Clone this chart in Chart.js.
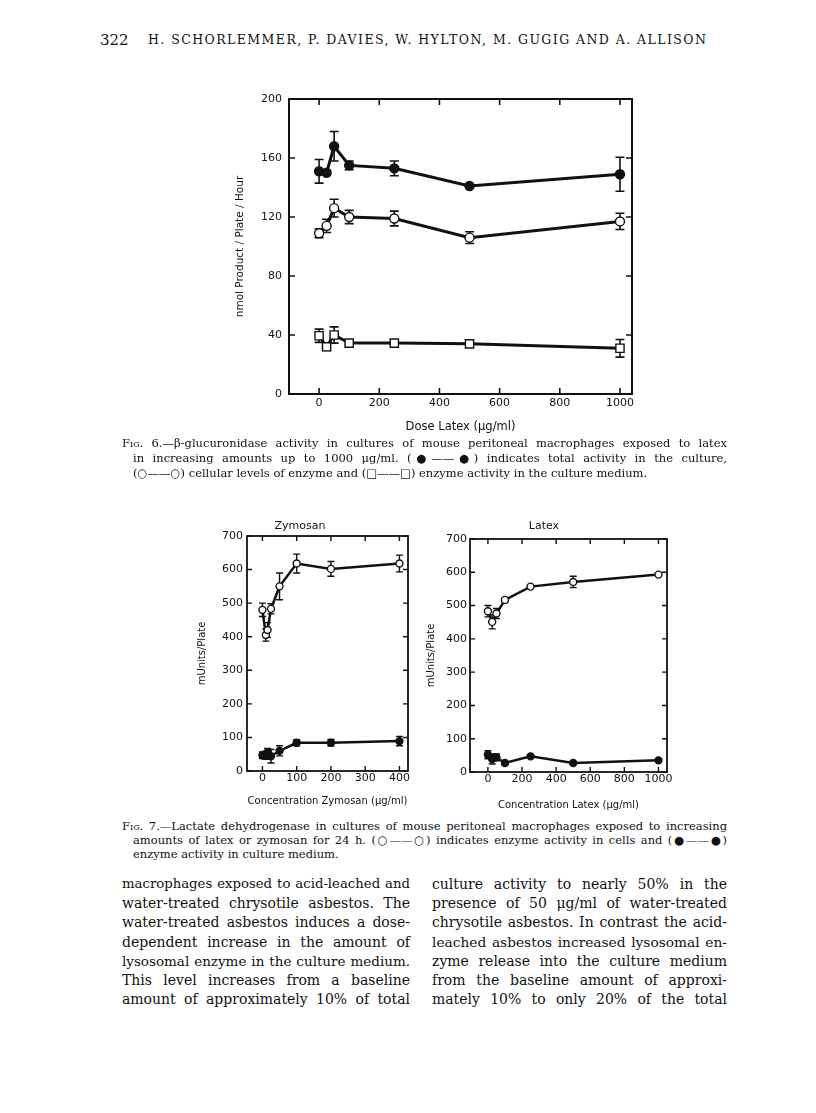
<!DOCTYPE html>
<html><head><meta charset="utf-8">
<script src="https://cdn.jsdelivr.net/npm/chart.js@4.4.1/dist/chart.umd.min.js"></script>
<style>
html,body{margin:0;padding:0;background:#fff;}
body{width:816px;height:1113px;position:relative;overflow:hidden;}
canvas{position:absolute;}
.t{position:absolute;color:#111;font-family:"DejaVu Serif",serif;margin:0;}
.sc{font-variant:small-caps;}
</style></head><body>
<canvas id="c6" width="420" height="360" style="left:230px;top:80px;width:420px;height:360px"></canvas>
<canvas id="cz" width="227" height="303" style="left:192px;top:510px;width:227px;height:303px"></canvas>
<canvas id="cl" width="256" height="307" style="left:421px;top:510px;width:256px;height:307px"></canvas>
<script>
// ---------- data ----------
const fig6Dose = [0, 25, 50, 100, 250, 500, 1000];
const fig6Total = [151, 150, 168, 155, 153, 141, 149];
const fig6TotalErr = [8, 1.5, 10, 3, 5, 1.5, 11.5];
const fig6Cells = [109, 114, 126, 120, 119, 106, 117];
const fig6CellsErr = [3, 4.5, 6, 4.5, 5, 4, 5.5];
const fig6Medium = [39.5, 32, 40, 34.5, 34.5, 34, 31];
const fig6MediumErr = [4.5, 2.5, 5.5, 1, 1, 1, 6];
const fig6XTicks = [0, 200, 400, 600, 800, 1000];
const fig6YTicks = [0, 40, 80, 120, 160, 200];

const zymDose = [0, 10, 15, 25, 50, 100, 200, 400];
const zymCells = [480, 405, 420, 483, 550, 618, 602, 618];
const zymCellsErr = [20, 18, 22, 15, 40, 28, 22, 25];
const zymMedium = [47, 47, 55, 44, 60, 84, 84, 89];
const zymMediumErr = [10, 12, 12, 20, 15, 9, 10, 14];
const zymXTicks = [0, 100, 200, 300, 400];

const lat7Dose = [0, 25, 50, 100, 250, 500, 1000];
const lat7Cells = [483, 451, 476, 517, 557, 571, 593];
const lat7CellsErr = [17, 21, 15, 5, 5, 17, 5];
const lat7Medium = [52, 39, 44, 27, 47, 27, 35];
const lat7MediumErr = [12, 15, 10, 5, 3, 3, 3];
const lat7XTicks = [0, 200, 400, 600, 800, 1000];
const fig7YTicks = [0, 100, 200, 300, 400, 500, 600, 700];

const INK = '#111';
const pts = (xs, ys) => xs.map((x, i) => ({x: x, y: ys[i]}));

// ---------- plugin: error bars, frame, inward ticks ----------
const decor = {
  id: 'decor',
  beforeDatasetsDraw(chart, args, o) {
    const ctx = chart.ctx, xs = chart.scales.x, ys = chart.scales.y;
    ctx.save();
    ctx.strokeStyle = INK; ctx.lineWidth = o.errWidth;
    chart.data.datasets.forEach(ds => {
      if (!ds.errors) return;
      ds.data.forEach((p, j) => {
        const e = ds.errors[j]; if (!e) return;
        const px = xs.getPixelForValue(p.x);
        const t = ys.getPixelForValue(p.y + e), b = ys.getPixelForValue(p.y - e);
        ctx.beginPath();
        ctx.moveTo(px, t); ctx.lineTo(px, b);
        ctx.moveTo(px - o.cap, t); ctx.lineTo(px + o.cap, t);
        ctx.moveTo(px - o.cap, b); ctx.lineTo(px + o.cap, b);
        ctx.stroke();
      });
    });
    ctx.restore();
  },
  afterDraw(chart, args, o) {
    const ctx = chart.ctx, a = chart.chartArea, xs = chart.scales.x, ys = chart.scales.y;
    ctx.save();
    ctx.strokeStyle = INK; ctx.lineWidth = o.frame;
    ctx.strokeRect(a.left, a.top, a.right - a.left, a.bottom - a.top);
    ctx.lineWidth = o.tickWidth;
    ctx.beginPath();
    xs.ticks.forEach(t => {
      const px = xs.getPixelForValue(t.value);
      ctx.moveTo(px, a.top); ctx.lineTo(px, a.top + o.tick);
      ctx.moveTo(px, a.bottom); ctx.lineTo(px, a.bottom - o.tick);
    });
    ys.ticks.forEach(t => {
      const py = ys.getPixelForValue(t.value);
      ctx.moveTo(a.left, py); ctx.lineTo(a.left + o.tick, py);
      ctx.moveTo(a.right, py); ctx.lineTo(a.right - o.tick, py);
    });
    ctx.stroke();
    ctx.restore();
  }
};

function series(data, errs, filled, style, lw, r) {
  return {
    data: data, errors: errs,
    borderColor: INK, borderWidth: lw, tension: 0,
    pointStyle: style, pointRadius: r, pointHoverRadius: r,
    pointBackgroundColor: filled ? INK : '#fff',
    pointBorderColor: INK, pointBorderWidth: 1.4,
    clip: false
  };
}

function makeChart(id, cfg) {
  const sans = 'DejaVu Sans';
  return new Chart(document.getElementById(id), {
    type: 'line',
    data: {datasets: cfg.datasets},
    options: {
      responsive: false, animation: false, devicePixelRatio: 1,
      layout: {padding: cfg.pad},
      plugins: {
        legend: {display: false}, tooltip: {enabled: false},
        title: cfg.title ? {display: true, text: cfg.title, color: INK,
          font: {family: sans, size: 11, weight: 'normal', lineHeight: 1.2}, padding: cfg.titlePad} : {display: false},
        decor: cfg.decor
      },
      scales: {
        x: {
          type: 'linear', min: cfg.xmin, max: cfg.xmax,
          afterBuildTicks: s => { s.ticks = cfg.xticks.map(v => ({value: v})); },
          afterFit: s => { s.height = cfg.xh; },
          grid: {display: false, drawTicks: false}, border: {display: false},
          ticks: {color: INK, autoSkip: false, maxRotation: 0, padding: cfg.xpad,
            font: {family: sans, size: 11}, callback: v => String(v)},
          title: {display: true, text: cfg.xtitle, color: INK,
            font: {family: sans, size: cfg.xtsize, lineHeight: 1.2}, padding: {top: 6, bottom: 6}}
        },
        y: {
          type: 'linear', min: cfg.ymin, max: cfg.ymax,
          afterBuildTicks: s => { s.ticks = cfg.yticks.map(v => ({value: v})); },
          afterFit: s => { s.width = cfg.yw; },
          grid: {display: false, drawTicks: false}, border: {display: false},
          ticks: {color: INK, autoSkip: false, padding: cfg.ypad,
            font: {family: sans, size: 11}, callback: v => String(v)},
          title: {display: true, text: cfg.ytitle, color: INK,
            font: {family: sans, size: cfg.ytsize, lineHeight: 1.2}, padding: {top: 4, bottom: 4}}
        }
      }
    },
    plugins: [decor]
  });
}

makeChart('c6', {
  datasets: [
    series(pts(fig6Dose, fig6Total), fig6TotalErr, true, 'circle', 3, 4.5),
    series(pts(fig6Dose, fig6Cells), fig6CellsErr, false, 'circle', 3, 4.5),
    series(pts(fig6Dose, fig6Medium), fig6MediumErr, false, 'rect', 3, 5.8)
  ],
  pad: {left: 0, top: 19, right: 18, bottom: 0},
  xmin: -100, xmax: 1040, ymin: 0, ymax: 200,
  xticks: fig6XTicks, yticks: fig6YTicks,
  xh: 46, yw: 59, xpad: 3, ypad: 7, xtsize: 11.5, ytsize: 10.5,
  xtitle: 'Dose Latex (\u03bcg/ml)', ytitle: 'nmol Product / Plate / Hour',
  decor: {errWidth: 1.6, cap: 4.5, frame: 2, tick: 6, tickWidth: 1.6}
});

makeChart('cz', {
  title: 'Zymosan', titlePad: {top: 9.4, bottom: 3.4},
  datasets: [
    series(pts(zymDose, zymCells), zymCellsErr, false, 'circle', 2.5, 3.5),
    series(pts(zymDose, zymMedium), zymMediumErr, true, 'circle', 2.5, 3.5)
  ],
  pad: {left: 0, top: 0, right: 11, bottom: 0},
  xmin: -45, xmax: 425, ymin: 0, ymax: 700,
  xticks: zymXTicks, yticks: fig7YTicks,
  xh: 42, yw: 55, xpad: 1, ypad: 4, xtsize: 10, ytsize: 10,
  xtitle: 'Concentration Zymosan (\u03bcg/ml)', ytitle: 'mUnits/Plate',
  decor: {errWidth: 1.4, cap: 3.5, frame: 1.8, tick: 5, tickWidth: 1.4}
});

makeChart('cl', {
  title: 'Latex', titlePad: {top: 9.4, bottom: 6.4},
  datasets: [
    series(pts(lat7Dose, lat7Cells), lat7CellsErr, false, 'circle', 2.5, 3.5),
    series(pts(lat7Dose, lat7Medium), lat7MediumErr, true, 'circle', 2.5, 3.5)
  ],
  pad: {left: 0, top: 0, right: 10, bottom: 0},
  xmin: -105, xmax: 1050, ymin: 0, ymax: 700,
  xticks: lat7XTicks, yticks: fig7YTicks,
  xh: 45, yw: 49, xpad: 1, ypad: 3, xtsize: 10, ytsize: 10,
  xtitle: 'Concentration Latex (\u03bcg/ml)', ytitle: 'mUnits/Plate',
  decor: {errWidth: 1.4, cap: 3.5, frame: 1.8, tick: 5, tickWidth: 1.4}
});

// ---------- page text ----------
function line(html, x, yc, w, size, mode) {
  const d = document.createElement('div');
  d.className = 't';
  d.innerHTML = html;
  d.style.left = x + 'px';
  d.style.fontSize = size + 'px';
  d.style.whiteSpace = 'nowrap';
  const lh = Math.round(size * 1.25);
  d.style.lineHeight = lh + 'px';
  d.style.top = (yc - lh / 2) + 'px';
  document.body.appendChild(d);
  let fs = size;
  while (w && d.getBoundingClientRect().width > w - 3 && fs > 6) { fs -= 0.25; d.style.fontSize = fs + 'px'; }
  if (mode === 'justify') {
    d.style.width = w + 'px';
    d.style.whiteSpace = 'normal';
    d.style.textAlign = 'justify';
    d.style.textAlignLast = 'justify';
  } else if (mode === 'spread') {
    const nat = d.getBoundingClientRect().width;
    const n = d.textContent.length - 1;
    d.style.letterSpacing = ((w - nat) / n) + 'px';
  }
  return d;
}

line('322', 100, 40, 0, 15, 'left');
line('H. SCHORLEMMER, P. DAVIES, W. HYLTON, M. GUGIG AND A. ALLISON', 148, 40, 558, 12.5, 'spread');

const cap6 = [
  '<span class="sc">Fig.</span> 6.\u2014\u03b2-glucuronidase activity in cultures of mouse peritoneal macrophages exposed to latex',
  'in increasing amounts up to 1000 \u03bcg/ml. (\u25cf\u2014\u2014\u25cf) indicates total activity in the culture,',
  '(\u25cb\u2014\u2014\u25cb) cellular levels of enzyme and (\u25a1\u2014\u2014\u25a1) enzyme activity in the culture medium.'
];
line(cap6[0], 122, 443, 605, 11.5, 'justify');
line(cap6[1], 133, 458, 594, 11.5, 'justify');
line(cap6[2], 133, 473, 594, 11.5, 'left');

const cap7 = [
  '<span class="sc">Fig.</span> 7.\u2014Lactate dehydrogenase in cultures of mouse peritoneal macrophages exposed to increasing',
  'amounts of latex or zymosan for 24 h. (\u25cb\u2014\u2014\u25cb) indicates enzyme activity in cells and (\u25cf\u2014\u2014\u25cf)',
  'enzyme activity in culture medium.'
];
line(cap7[0], 122, 826, 605, 11.5, 'justify');
line(cap7[1], 133, 840, 594, 11.5, 'justify');
line(cap7[2], 133, 854, 594, 11.5, 'left');

const bodyLeft = [
  'macrophages exposed to acid-leached and',
  'water-treated chrysotile asbestos. The',
  'water-treated asbestos induces a dose-',
  'dependent increase in the amount of',
  'lysosomal enzyme in the culture medium.',
  'This level increases from a baseline',
  'amount of approximately 10% of total'
];
const bodyRight = [
  'culture activity to nearly 50% in the',
  'presence of 50 \u03bcg/ml of water-treated',
  'chrysotile asbestos. In contrast the acid-',
  'leached asbestos increased lysosomal en-',
  'zyme release into the culture medium',
  'from the baseline amount of approxi-',
  'mately 10% to only 20% of the total'
];
bodyLeft.forEach((s, i) => line(s, 122, 884 + i * 19.2, 288, 14, 'justify'));
bodyRight.forEach((s, i) => line(s, 432, 884 + i * 19.2, 295, 14, 'justify'));
</script>
</body></html>
